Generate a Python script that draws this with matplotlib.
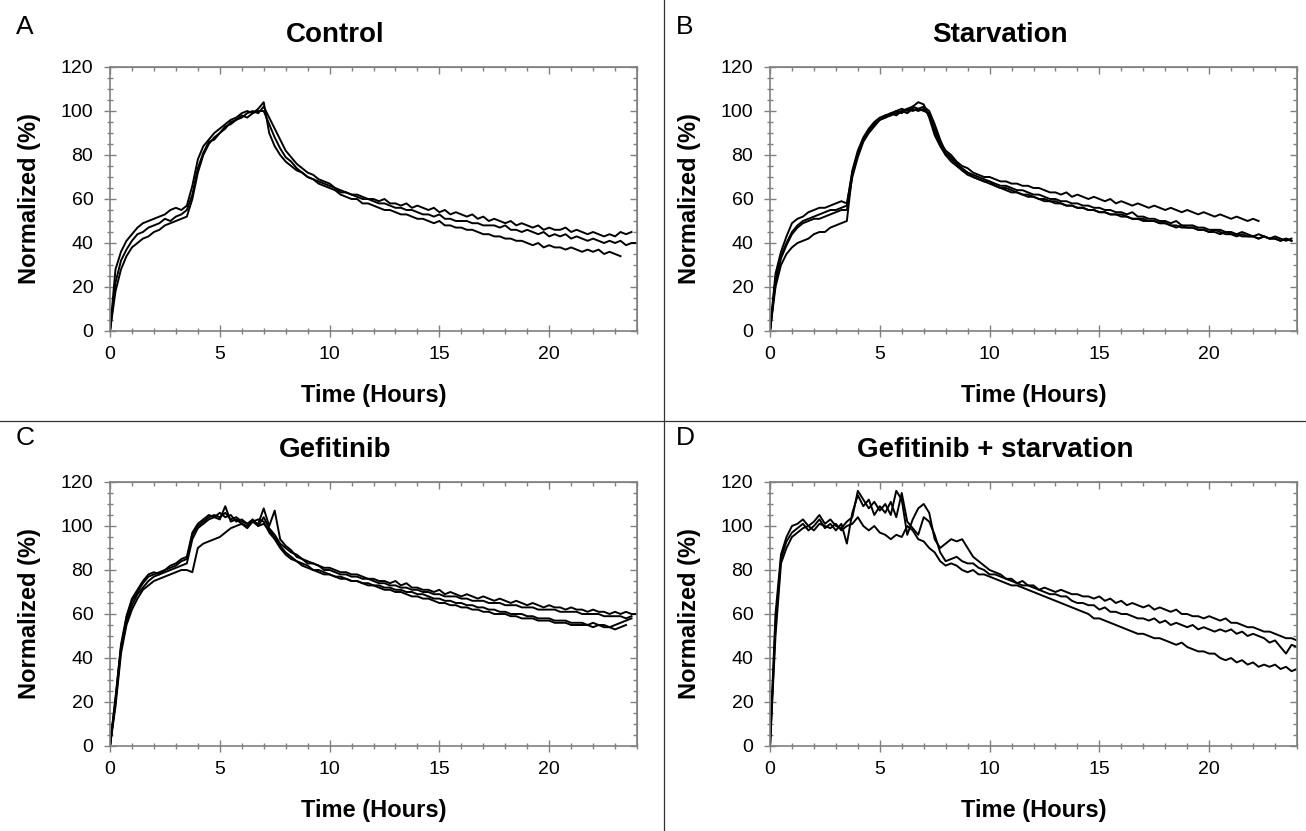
import numpy as np
import matplotlib
matplotlib.use("Agg")
import matplotlib.pyplot as plt
from matplotlib.lines import Line2D
from matplotlib.ticker import MultipleLocator

plt.rcParams['font.family'] = ['Liberation Sans', 'DejaVu Sans']

# ---- data: normalized signal (%) sampled every 0.25 h from t = 0 ----
STEP_H = 0.25

# A: Control
CONTROL = [
    [0, 22, 32, 37, 41, 44, 45, 47, 48, 49, 51, 50, 52, 53, 55, 62, 74, 81, 86, 87, 90, 93, 94, 96, 97, 99, 100, 99, 102,
     97, 92, 87, 82, 79, 76, 74, 72, 71, 69, 68, 67, 65, 64, 63, 62, 62, 61, 60, 60, 59, 60, 58, 58, 57, 58, 56, 57,
     56, 55, 56, 54, 55, 53, 54, 53, 52, 53, 51, 52, 50, 51, 50, 49, 50, 48, 49, 48, 47, 48, 46, 47, 46, 46, 47, 45,
     46, 45, 44, 45, 44, 43, 44, 43, 45, 44, 45],
    [0, 28, 36, 41, 44, 47, 49, 50, 51, 52, 53, 55, 56, 55, 57, 66, 78, 84, 87, 90, 92, 94, 96, 97, 99, 100, 99, 101, 104,
     90, 84, 80, 77, 75, 73, 72, 70, 69, 68, 67, 66, 65, 63, 63, 62, 61, 60, 60, 59, 58, 58, 57, 56, 56, 55, 55, 54,
     53, 53, 52, 53, 51, 51, 50, 50, 50, 49, 49, 48, 48, 48, 47, 48, 46, 46, 45, 46, 45, 44, 45, 43, 44, 43, 44, 42,
     43, 42, 41, 42, 41, 40, 41, 40, 41, 39, 40, 40],
    [0, 18, 28, 34, 38, 40, 42, 43, 45, 46, 48, 49, 50, 51, 52, 60, 72, 80, 85, 88, 90, 92, 95, 96, 98, 97, 99, 100, 100,
     94, 88, 83, 79, 77, 74, 72, 70, 69, 67, 66, 65, 64, 62, 61, 60, 60, 58, 58, 57, 56, 55, 55, 54, 53, 53, 52, 51,
     51, 50, 49, 50, 48, 48, 47, 47, 46, 46, 45, 44, 44, 43, 43, 42, 42, 41, 41, 40, 39, 40, 38, 39, 38, 38, 37, 38,
     37, 36, 37, 36, 37, 35, 36, 35, 34],
]

# B: Starvation
STARVATION = [
    [0, 26, 36, 43, 49, 51, 52, 54, 55, 56, 56, 57, 58, 59, 58, 72, 80, 87, 91, 94, 96, 97, 99, 98, 100, 101, 102, 101, 100,
     99, 92, 86, 82, 80, 77, 75, 74, 72, 71, 70, 70, 69, 68, 68, 67, 67, 66, 66, 65, 65, 64, 63, 63, 62, 63, 61, 62,
     61, 60, 61, 60, 59, 60, 58, 59, 58, 57, 58, 57, 56, 57, 56, 55, 56, 55, 54, 55, 54, 53, 54, 53, 52, 53, 52, 51,
     52, 51, 50, 51, 50],
    [0, 24, 34, 40, 45, 48, 50, 51, 52, 53, 54, 55, 55, 56, 57, 73, 82, 88, 92, 95, 97, 98, 99, 100, 101, 100, 102, 104, 103,
     97, 89, 84, 80, 78, 76, 74, 72, 71, 70, 69, 68, 67, 66, 66, 65, 64, 64, 63, 62, 62, 61, 60, 60, 59, 59, 58, 58,
     57, 57, 56, 56, 55, 55, 54, 54, 53, 54, 52, 52, 51, 51, 50, 50, 49, 50, 48, 48, 48, 47, 47, 46, 46, 46, 45, 45,
     44, 45, 44, 43, 44, 43, 42, 43, 42, 41, 42],
    [0, 22, 33, 39, 44, 47, 49, 50, 51, 51, 52, 53, 54, 55, 55, 70, 79, 86, 90, 93, 96, 98, 98, 100, 99, 101, 100, 101, 102,
     100, 94, 87, 81, 79, 76, 73, 72, 70, 69, 68, 68, 66, 65, 65, 64, 63, 62, 62, 61, 60, 60, 59, 59, 58, 57, 57, 56,
     56, 55, 55, 54, 54, 53, 53, 53, 52, 51, 51, 50, 50, 50, 49, 49, 48, 47, 48, 47, 47, 46, 46, 45, 46, 45, 44, 44,
     44, 43, 43, 43, 42, 43, 42, 42, 41, 42, 41],
    [0, 20, 30, 35, 38, 40, 41, 42, 44, 45, 45, 47, 48, 49, 50, 72, 81, 87, 91, 94, 96, 97, 98, 99, 100, 99, 101, 100, 101,
     98, 91, 85, 80, 77, 75, 73, 71, 70, 69, 68, 67, 66, 65, 64, 63, 63, 62, 61, 61, 60, 59, 59, 58, 58, 57, 57, 56,
     56, 55, 55, 54, 54, 53, 53, 52, 52, 51, 51, 51, 50, 50, 49, 49, 48, 48, 47, 47, 47, 46, 46, 45, 45, 44, 45, 44,
     43, 44, 43, 43, 42, 43, 42, 42, 41, 42, 41],
]

# C: Gefitinib
GEFITINIB = [
    [0, 22, 45, 58, 66, 70, 74, 77, 78, 79, 80, 81, 82, 84, 85, 96, 100, 102, 104, 105, 104, 106, 103, 104, 102, 101, 103, 100, 104,
     99, 96, 92, 90, 88, 87, 85, 84, 83, 82, 81, 81, 80, 79, 79, 78, 78, 77, 76, 76, 75, 75, 74, 75, 73, 74, 72, 72,
     71, 71, 70, 71, 69, 70, 69, 68, 69, 68, 67, 68, 67, 66, 67, 66, 65, 66, 65, 64, 65, 64, 63, 64, 63, 63, 62, 63,
     62, 62, 61, 62, 61, 61, 60, 61, 60, 61, 60, 60],
    [0, 20, 44, 56, 64, 69, 72, 75, 77, 78, 79, 80, 81, 82, 83, 94, 99, 101, 103, 104, 103, 109, 102, 103, 101, 100, 102, 101, 108,
     100, 107, 94, 91, 89, 86, 85, 83, 83, 82, 80, 80, 79, 78, 78, 77, 77, 76, 76, 75, 74, 74, 73, 73, 72, 72, 71, 71,
     70, 70, 69, 69, 68, 68, 68, 67, 67, 66, 66, 66, 65, 65, 65, 64, 64, 64, 63, 63, 63, 62, 62, 62, 62, 61, 61, 61,
     61, 60, 60, 60, 60, 59, 59, 59, 59, 58, 59],
    [0, 18, 42, 55, 62, 67, 71, 73, 75, 76, 77, 78, 79, 80, 80, 79, 90, 92, 93, 94, 95, 97, 99, 100, 101, 99, 102, 100, 101,
     98, 95, 91, 88, 86, 84, 83, 82, 80, 80, 79, 78, 77, 77, 76, 75, 75, 74, 73, 73, 72, 71, 71, 70, 70, 69, 68, 68,
     67, 67, 66, 65, 65, 64, 64, 63, 63, 62, 62, 61, 61, 60, 60, 60, 59, 59, 58, 58, 58, 57, 57, 57, 56, 56, 56, 55,
     55, 55, 55, 54, 55, 54, 54, 53, 54, 55],
    [0, 21, 46, 59, 67, 71, 75, 78, 79, 78, 80, 82, 83, 85, 86, 97, 101, 103, 105, 104, 106, 104, 105, 102, 103, 101, 102, 103, 102,
     97, 94, 90, 87, 85, 84, 82, 81, 80, 79, 78, 78, 77, 76, 76, 75, 75, 74, 74, 73, 73, 72, 72, 71, 71, 70, 70, 69,
     69, 68, 67, 67, 66, 66, 65, 65, 64, 64, 63, 63, 62, 62, 61, 61, 60, 60, 60, 59, 59, 58, 58, 58, 57, 57, 57, 56,
     56, 56, 55, 56, 55, 55, 54, 55, 56, 57, 58],
]

# D: Gefitinib + starvation
GEF_STARV = [
    [0, 60, 87, 95, 100, 101, 103, 100, 102, 105, 101, 103, 100, 99, 102, 104, 116, 112, 108, 111, 107, 110, 105, 116, 112, 96, 103, 108, 110,
     106, 94, 90, 92, 94, 93, 94, 90, 86, 84, 82, 80, 79, 78, 76, 76, 74, 75, 73, 73, 71, 72, 71, 70, 71, 70, 69, 69,
     68, 68, 67, 68, 66, 67, 65, 66, 64, 65, 64, 63, 64, 62, 63, 62, 61, 62, 60, 60, 59, 59, 58, 59, 58, 57, 58, 56,
     56, 55, 54, 54, 53, 52, 52, 51, 50, 49, 49, 48],
    [0, 55, 85, 93, 97, 99, 101, 98, 100, 103, 99, 101, 98, 101, 92, 106, 114, 109, 112, 105, 109, 106, 111, 104, 115, 102, 99, 96, 104,
     102, 96, 88, 84, 85, 86, 84, 83, 83, 81, 80, 78, 78, 77, 76, 75, 74, 73, 73, 72, 71, 70, 69, 69, 68, 68, 66, 65,
     65, 64, 64, 62, 63, 61, 61, 60, 60, 59, 58, 58, 57, 58, 56, 57, 55, 56, 55, 54, 55, 53, 54, 53, 52, 53, 52, 53,
     51, 52, 50, 51, 50, 49, 47, 48, 45, 42, 46, 45],
    [0, 50, 83, 90, 95, 97, 99, 100, 98, 101, 100, 99, 101, 98, 100, 101, 104, 100, 98, 100, 97, 96, 94, 96, 95, 100, 98, 94, 93,
     90, 88, 84, 82, 83, 82, 80, 79, 80, 78, 78, 77, 76, 75, 74, 73, 73, 72, 71, 70, 69, 68, 67, 66, 65, 64, 63, 62,
     61, 60, 58, 58, 57, 56, 55, 54, 53, 52, 51, 51, 50, 49, 49, 48, 47, 46, 47, 45, 44, 43, 43, 42, 42, 40, 39, 40,
     38, 39, 37, 38, 36, 37, 36, 37, 35, 36, 34, 35],
]

PANELS = [
    ('A', 'Control', CONTROL),
    ('B', 'Starvation', STARVATION),
    ('C', 'Gefitinib', GEFITINIB),
    ('D', 'Gefitinib + starvation', GEF_STARV),
]

# ---- layout (figure pixels -> fractions) ----
W, H = 1306, 831
fig = plt.figure(figsize=(W / 100, H / 100), dpi=100)

AX_LEFT = [110, 770, 110, 770]
AX_TOP = [67, 67, 482, 482]
AX_W, AX_H = 527, 264
LETTER_POS = [(16, 27), (676, 27), (16, 438), (676, 438)]
TITLE_X = [335, 1000, 335, 995]
TITLE_Y = [35, 35, 450, 450]

SPINE = '#808080'


def set_ticks(a, which_axis):
    loc = a.xaxis if which_axis == 'x' else a.yaxis
    if which_axis == 'x':
        loc.set_major_locator(MultipleLocator(5))
        loc.set_minor_locator(MultipleLocator(1))
    else:
        loc.set_major_locator(MultipleLocator(20))
        loc.set_minor_locator(MultipleLocator(5))


for i, (letter, title, series) in enumerate(PANELS):
    ax = fig.add_axes([AX_LEFT[i] / W, 1 - (AX_TOP[i] + AX_H) / H, AX_W / W, AX_H / H])
    for y in series:
        t = np.arange(len(y)) * STEP_H
        ax.plot(t, y, color='black', lw=1.4)

    ax.set_xlim(0, 24)
    ax.set_ylim(0, 120)
    set_ticks(ax, 'x')
    set_ticks(ax, 'y')
    ax.tick_params(which='both', direction='inout', color=SPINE, width=1)
    ax.tick_params(which='major', length=8, labelsize=14)
    ax.tick_params(which='minor', length=5)
    ax.tick_params(axis='x', which='major', pad=7)
    ax.tick_params(axis='y', which='major', pad=8)
    for s in ax.spines.values():
        s.set_color(SPINE)
        s.set_linewidth(1.2)

    # inward ticks on top and right
    top = ax.secondary_xaxis('top')
    set_ticks(top, 'x')
    top.tick_params(which='both', direction='in', color=SPINE, width=1, labeltop=False)
    top.tick_params(which='major', length=5)
    top.tick_params(which='minor', length=3)
    top.spines['top'].set_color(SPINE)
    right = ax.secondary_yaxis('right')
    set_ticks(right, 'y')
    right.tick_params(which='both', direction='in', color=SPINE, width=1, labelright=False)
    right.tick_params(which='major', length=5)
    right.tick_params(which='minor', length=3)
    right.spines['right'].set_color(SPINE)

    ax.set_xlabel('Time (Hours)', fontsize=17, fontweight='bold')
    ax.xaxis.set_label_coords(0.5, -0.2)
    ax.text(-0.152, 0.5, 'Normalized (%)', transform=ax.transAxes, rotation=90,
            ha='center', va='center', fontsize=17, fontweight='bold')

    fig.text(LETTER_POS[i][0] / W, 1 - LETTER_POS[i][1] / H, letter,
             fontsize=19, ha='left', va='center')
    fig.text(TITLE_X[i] / W, 1 - TITLE_Y[i] / H, title,
             fontsize=20, fontweight='bold', ha='center', va='center')

# panel dividers
fig.add_artist(Line2D([664 / W, 664 / W], [0, 1], transform=fig.transFigure, color='#333333', lw=0.9))
fig.add_artist(Line2D([0, 1], [1 - 421 / H, 1 - 421 / H], transform=fig.transFigure, color='#333333', lw=0.9))

fig.savefig('out.png', dpi=100)
